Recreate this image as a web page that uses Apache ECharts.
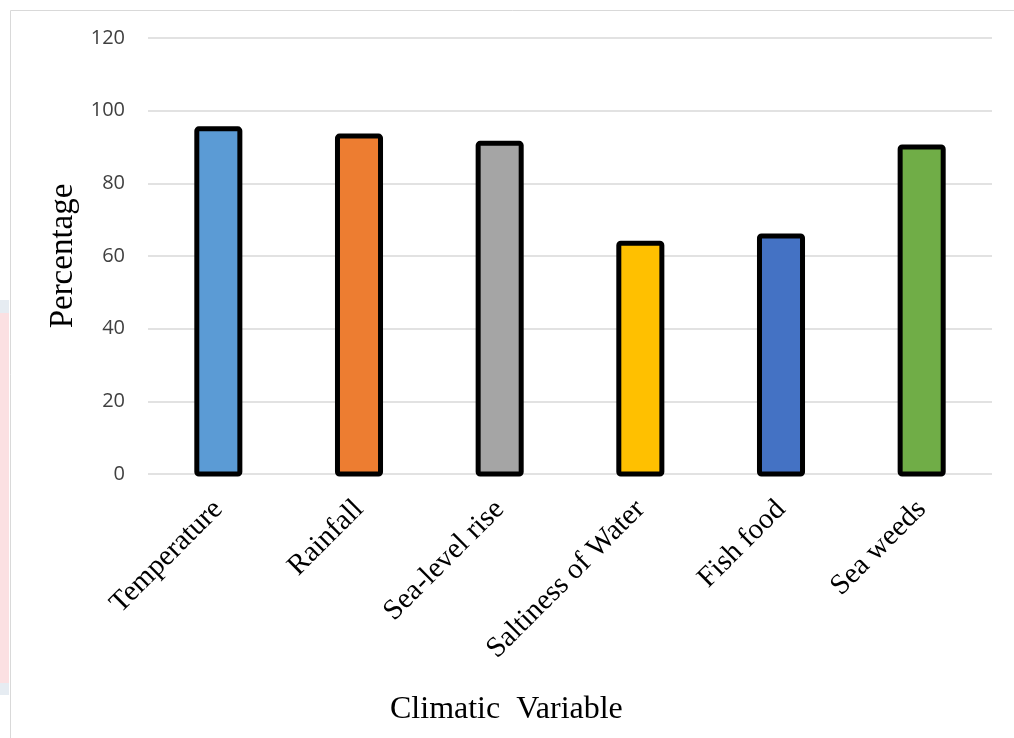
<!DOCTYPE html>
<html><head><meta charset="utf-8">
<script src="https://cdn.jsdelivr.net/npm/echarts@6/dist/echarts.min.js"></script>
<style>html,body{margin:0;padding:0;background:#fff}#c{width:1014px;height:738px}</style>
</head><body><div id="c"></div>
<script>
const categories = ["Temperature", "Rainfall", "Sea-level rise", "Saltiness of Water", "Fish food", "Sea weeds"];
const values = [95, 93, 91, 63.5, 65.5, 90];
const colors = ["#5B9BD5", "#ED7D31", "#A5A5A5", "#FFC000", "#4472C4", "#70AD47"];
const yTicks = [0, 20, 40, 60, 80, 100, 120];

const chart = echarts.init(document.getElementById('c'));
chart.setOption({
  animation: false,
  graphic: [
    {type: 'rect', shape: {x: 0, y: 300, width: 9, height: 395}, style: {fill: '#E6ECF2'}, z: -1},
    {type: 'rect', shape: {x: 0, y: 313, width: 9, height: 370}, style: {fill: '#FBE0E2'}, z: -1},
    {type: 'line', shape: {x1: 10.5, y1: 10.5, x2: 10.5, y2: 738}, style: {stroke: '#D9D9D9', lineWidth: 1}},
    {type: 'line', shape: {x1: 10.5, y1: 10.5, x2: 1014, y2: 10.5}, style: {stroke: '#D9D9D9', lineWidth: 1}},
    {type: 'text', left: 390, top: 694, style: {text: 'Climatic  Variable', font: '32px "Liberation Serif"', fill: '#000'}}
  ],
  grid: {left: 148, right: 22, top: 38, bottom: 264, containLabel: false},
  xAxis: {
    type: 'category',
    data: categories,
    axisLine: {show: false},
    axisTick: {show: false},
    axisLabel: {rotate: 45, margin: 31, fontFamily: 'Liberation Serif', fontSize: 29, color: '#000'}
  },
  yAxis: {
    type: 'value',
    min: yTicks[0], max: yTicks[yTicks.length - 1], interval: 20,
    axisLine: {show: false},
    axisTick: {show: false},
    splitLine: {lineStyle: {color: '#D9D9D9', width: 1.5}},
    axisLabel: {margin: 23, fontFamily: 'Open Sans', fontSize: 20, color: '#404040'},
    name: 'Percentage',
    nameLocation: 'middle',
    nameGap: 67,
    nameRotate: 90,
    nameTextStyle: {fontFamily: 'Liberation Serif', fontSize: 33, color: '#000'}
  },
  series: [{
    type: 'custom',
    data: values.map((v, i) => [i, v]),
    renderItem: function (params, api) {
      const idx = api.value(0);
      const top = api.coord([idx, api.value(1)]);
      const base = api.coord([idx, 0]);
      const w = api.size([1, 0])[0] * 0.306;
      return {
        type: 'rect',
        shape: {x: top[0] - w / 2, y: top[1], width: w, height: base[1] - top[1], r: 2},
        style: {fill: colors[idx], stroke: '#000', lineWidth: 5}
      };
    }
  }]
});
</script></body></html>
